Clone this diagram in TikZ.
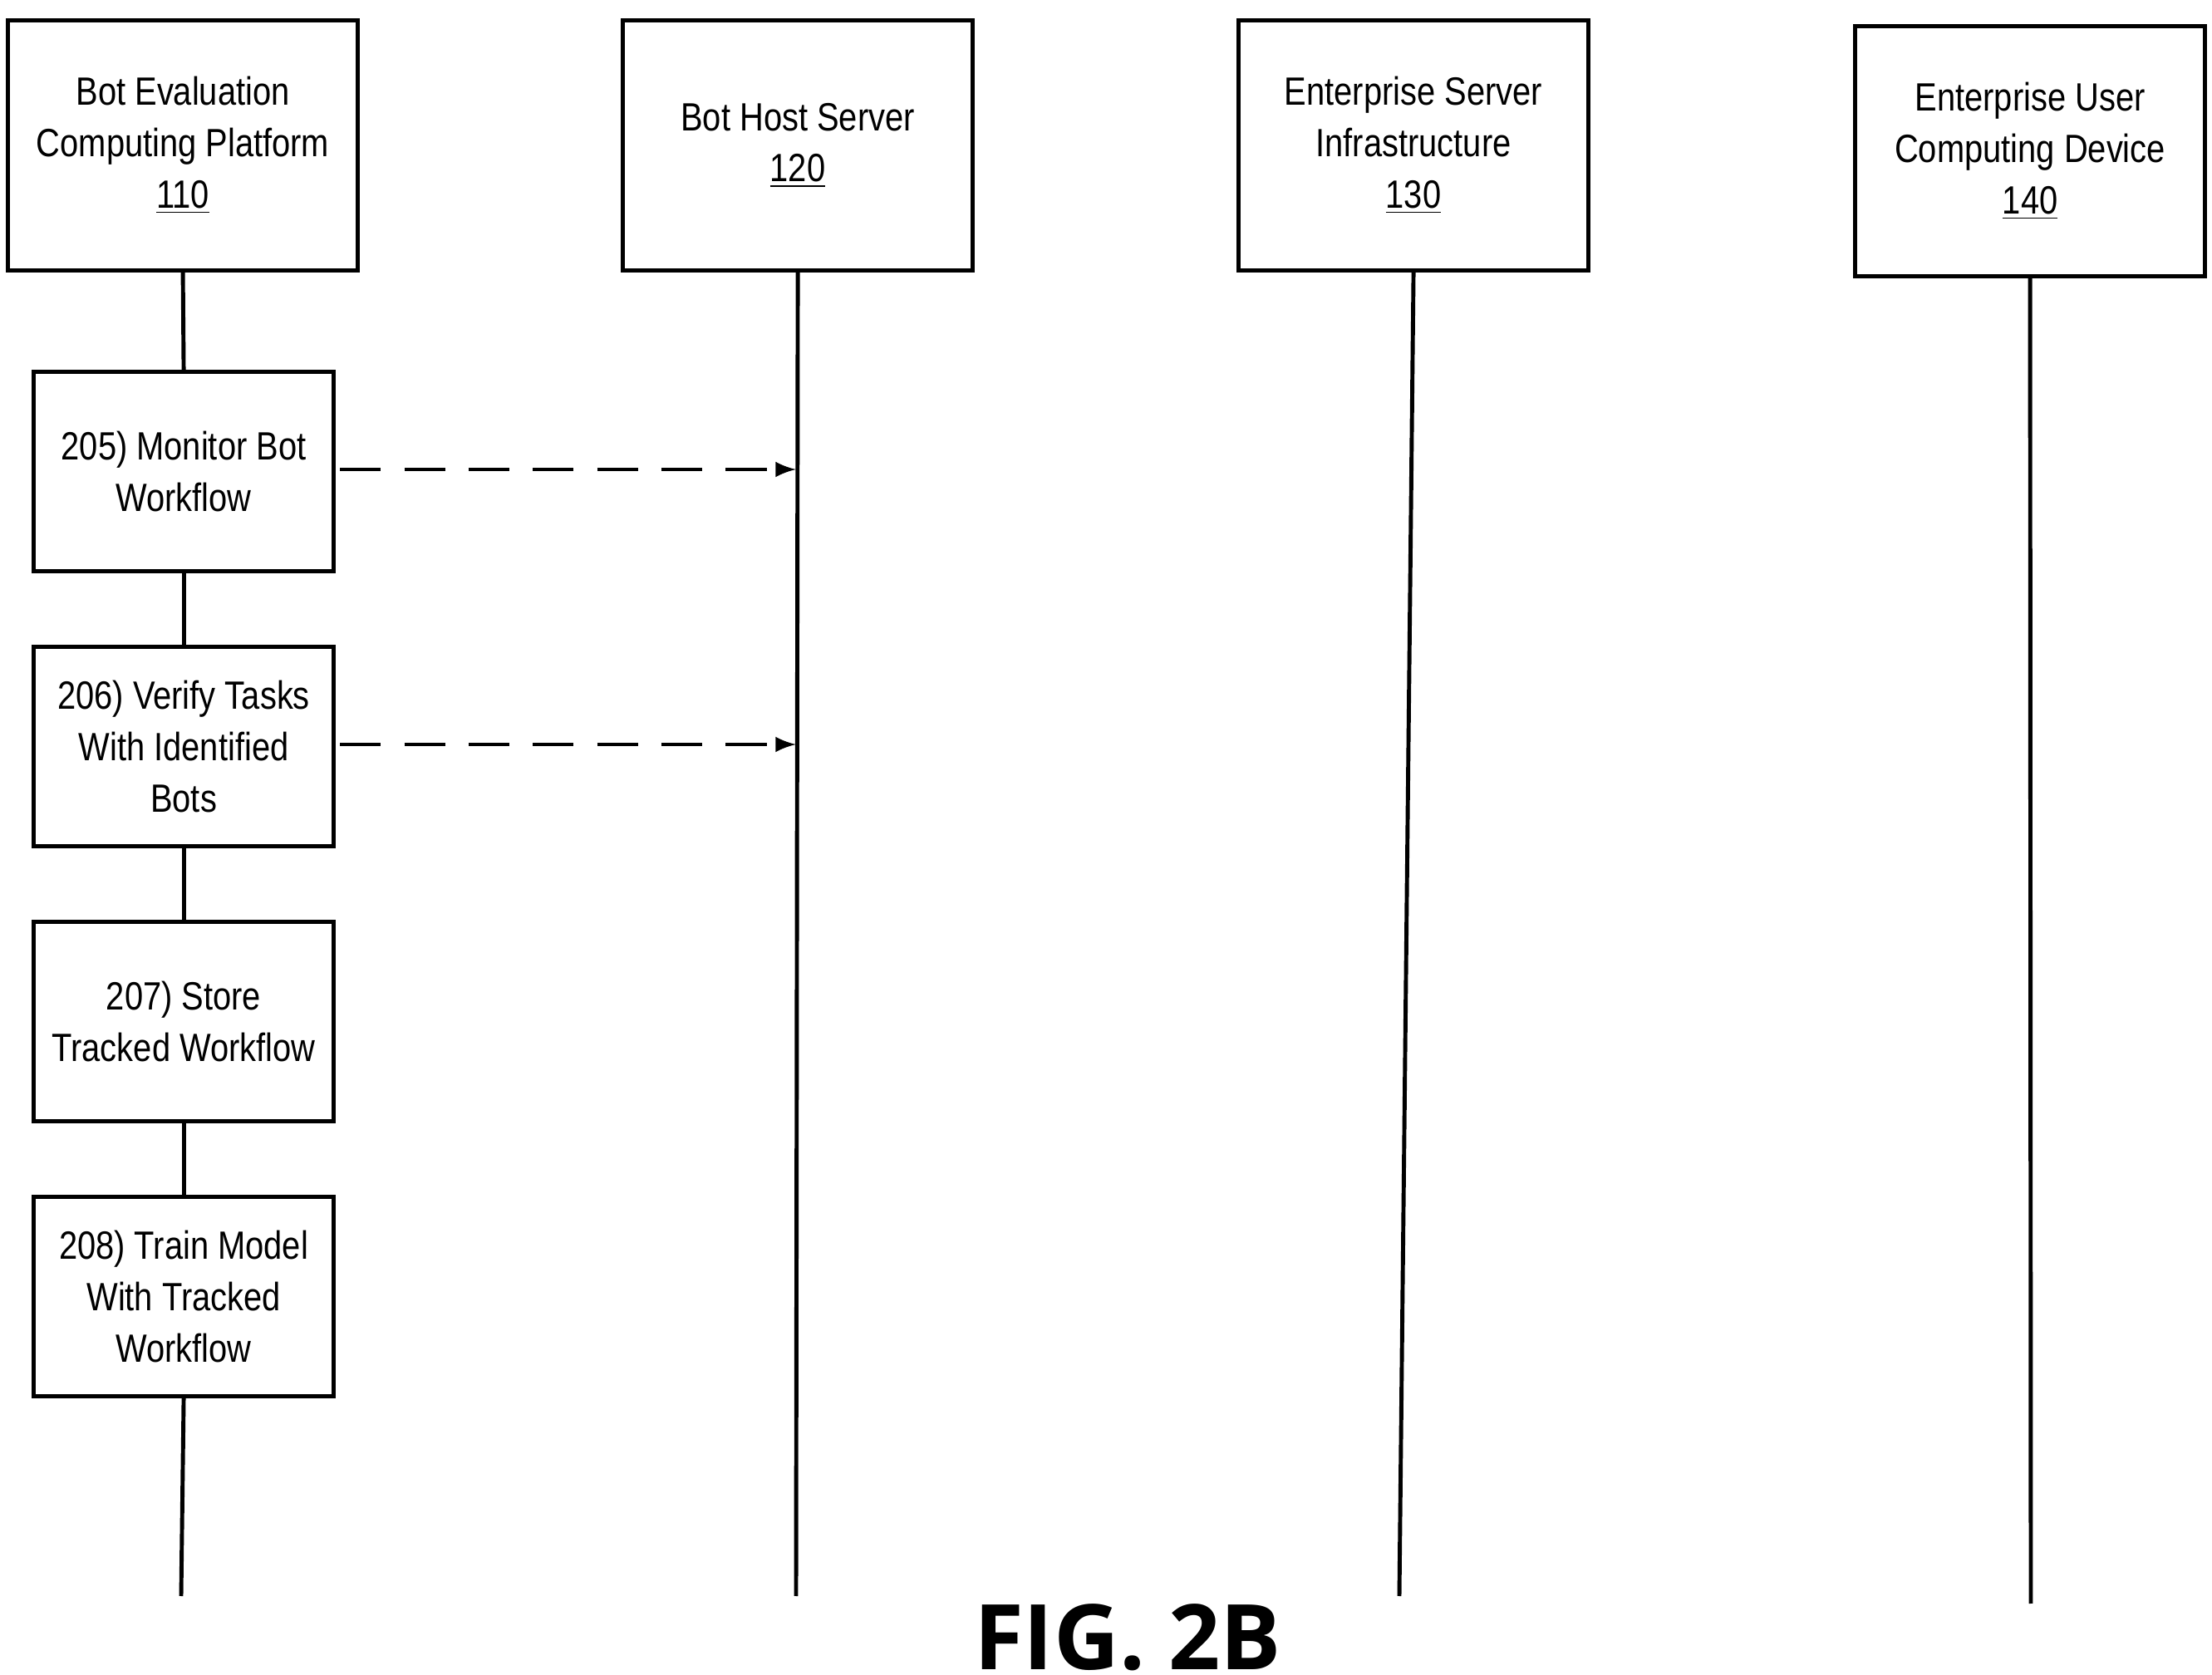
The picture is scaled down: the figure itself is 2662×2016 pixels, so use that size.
\documentclass[tikz,border=0pt]{standalone}
\usepackage{fontspec}
\setmainfont[FakeStretch=0.84]{Liberation Sans}
\newfontfamily\figfont{Open Sans}
\begin{document}
\begin{tikzpicture}[x=0.01cm,y=-0.01cm,
  hdr/.style={draw,line width=1.4pt,minimum width=4.21cm,minimum height=3.01cm,anchor=north west,inner sep=0,align=center,font=\fontsize{13.5}{17.5}\selectfont},
  stepbox/.style={draw,line width=1.4pt,minimum width=3.61cm,minimum height=2.40cm,anchor=north west,inner sep=0,align=center,font=\fontsize{13.5}{17.5}\selectfont},
  life/.style={line width=1.4pt},
  msg/.style={line width=1.4pt,dash pattern=on 14pt off 8pt,-latex}]
\useasboundingbox (0,0) rectangle (2662,2016);
\node[hdr] (h1) at (7,22) {Bot Evaluation\\Computing Platform\\\underline{110}};
\node[hdr] (h2) at (747,22) {Bot Host Server\\\underline{120}};
\node[hdr] (h3) at (1488,22) {Enterprise Server\\Infrastructure\\\underline{130}};
\node[hdr] (h4) at (2230,29) {Enterprise User\\Computing Device\\\underline{140}};
\node[stepbox] (s1) at (38,445) {205) Monitor Bot\\Workflow};
\node[stepbox] (s2) at (38,776) {206) Verify Tasks\\With Identified\\Bots};
\node[stepbox] (s3) at (38,1107) {207) Store\\Tracked Workflow};
\node[stepbox] (s4) at (38,1438) {208) Train Model\\With Tracked\\Workflow};
\coordinate (e1) at (218,1921);
\coordinate (e2) at (958,1921);
\coordinate (e3) at (1684,1921);
\coordinate (e4) at (2444,1930);
\draw[life] (h1.south) -- (s1.north);
\draw[life] (s1.south) -- (s2.north);
\draw[life] (s2.south) -- (s3.north);
\draw[life] (s3.south) -- (s4.north);
\draw[life] (s4.south) -- (e1);
\draw[life] (h2.south) -- (e2);
\draw[life] (h3.south) -- (e3);
\draw[life] (h4.south) -- (e4);
\coordinate (t1) at (958,565);
\coordinate (t2) at (958,896);
\draw[msg] ([xshift=0.05cm]s1.east |- t1) -- (t1);
\draw[msg] ([xshift=0.05cm]s2.east |- t2) -- (t2);
\node[font=\figfont\bfseries\fontsize{31}{36}\selectfont] (fig) at (1357,1971) {FIG. 2B};
\end{tikzpicture}
\end{document}
